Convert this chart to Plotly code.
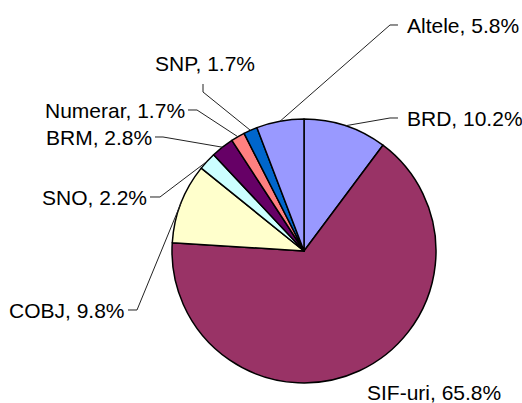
import math
import plotly.graph_objects as go

labels = ["BRD", "SIF-uri", "COBJ", "SNO", "BRM", "Numerar", "SNP", "Altele"]
values = [10.2, 65.8, 9.8, 2.2, 2.8, 1.7, 1.7, 5.8]
colors = ["#9999FF", "#993366", "#FFFFCC", "#CCFFFF", "#660066", "#FF8080", "#0066CC", "#9999FF"]

W, H = 522, 403
CX, CY, R = 304, 251, 132  # pie centre / radius in pixels

# label layout: text position (px), anchor, leader elbow points (text side -> pie)
label_layout = {
    "BRD":     dict(tx=406, ty=118, anchor="left",  elbow=[(398, 118), (390, 118)]),
    "SIF-uri": dict(tx=366, ty=392, anchor="left",  elbow=None),
    "COBJ":    dict(tx=126, ty=310, anchor="right", elbow=[(128, 310), (137, 310)]),
    "SNO":     dict(tx=148, ty=197, anchor="right", elbow=[(150, 197), (160, 197)]),
    "BRM":     dict(tx=153, ty=137, anchor="right", elbow=[(155, 137), (163, 137)]),
    "Numerar": dict(tx=186, ty=110, anchor="right", elbow=[(188, 110), (197, 110)]),
    "SNP":     dict(tx=154, ty=63,  anchor="left",  elbow=[(203, 84), (203, 92)]),
    "Altele":  dict(tx=406, ty=25,  anchor="left",  elbow=[(398, 25), (390, 25)]),
}

def px2paper(x, y):
    return x / W, 1 - y / H

fig = go.Figure(go.Pie(
    labels=labels, values=values, sort=False, direction="clockwise", rotation=0,
    marker=dict(colors=colors, line=dict(color="black", width=1.5)),
    textinfo="none", hoverinfo="label+percent",
    domain=dict(x=[(CX - R) / W, (CX + R) / W], y=[(H - CY - R) / H, (H - CY + R) / H]),
))

total = sum(values)
cum = 0.0
annotations, shapes = [], []
for lab, v in zip(labels, values):
    mid = (cum + v / 2) / total * 2 * math.pi
    cum += v
    ex, ey = CX + R * math.sin(mid), CY - R * math.cos(mid)
    L = label_layout[lab]
    pct = v / total * 100
    tx, ty = px2paper(L["tx"], L["ty"])
    annotations.append(dict(
        x=tx, y=ty, xref="paper", yref="paper", showarrow=False,
        text=f"{lab}, {pct:.1f}%", xanchor=L["anchor"], yanchor="middle",
        font=dict(family="Liberation Sans, Arial", size=21, color="black"),
        borderpad=0,
    ))
    if L["elbow"]:
        pts = [px2paper(*p) for p in L["elbow"]] + [px2paper(ex, ey)]
        path = "M " + " L ".join(f"{x:.5f},{y:.5f}" for x, y in pts)
        shapes.append(dict(type="path", xref="paper", yref="paper", path=path,
                           line=dict(color="#222222", width=1)))

fig.update_layout(
    width=W, height=H, margin=dict(l=0, r=0, t=0, b=0),
    paper_bgcolor="white", plot_bgcolor="white", showlegend=False,
    annotations=annotations, shapes=shapes,
)
fig.write_html("out.html", config={"displayModeBar": False},
               post_script="document.body.style.margin='0';document.body.style.overflow='hidden';")
